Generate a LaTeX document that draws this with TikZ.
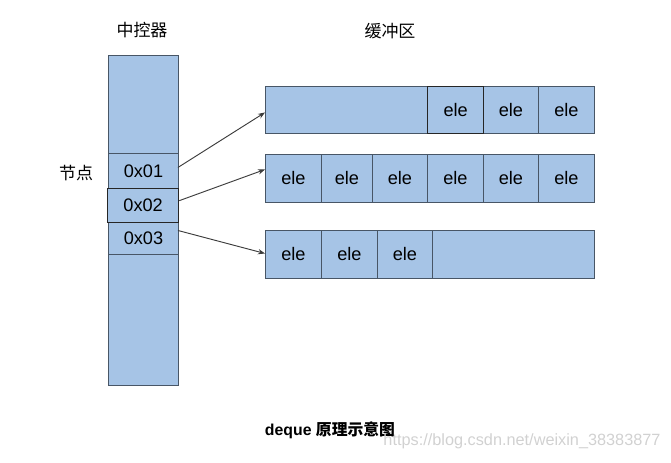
\documentclass[tikz,border=0pt]{standalone}
\usepackage{fontspec}
\setmainfont{Liberation Sans}
\newfontfamily\cjk{Noto Sans CJK SC}
\usetikzlibrary{arrows.meta,positioning,calc}
\definecolor{cellblue}{RGB}{166,196,230}
\definecolor{celledge}{RGB}{72,86,102}
\definecolor{linkgray}{RGB}{60,60,60}
\tikzset{
  cell/.style={draw=celledge, fill=cellblue, line width=0.8pt, inner sep=0pt,
    anchor=north west, font=\fontsize{15.5}{17}\selectfont},
  picked/.style={draw=black!85, line width=1.1pt},
  link/.style={draw=linkgray, line width=0.8pt, -{Stealth[length=6pt,width=4.5pt]}},
  caption/.style={font=\fontsize{14.5}{17}\selectfont\cjk}
}
\begin{document}
\begin{tikzpicture}[x=0.03cm, y=-0.03cm]
  \useasboundingbox (0,0) rectangle (671,462);
  % ---- left: map of nodes ----
  \begin{scope}
    \node[cell, minimum width=2.1cm, minimum height=9.9cm] (ctrl) at (108,55) {};
    \node[cell, minimum width=2.1cm, minimum height=1.05cm] (n1) at (108,153) {0x01};
    \node[cell, minimum width=2.1cm, minimum height=0.96cm] (n3) at (108,222) {0x03};
    \node[cell, picked, minimum width=2.13cm, minimum height=1.02cm] (n2) at (107,188) {0x02};
    \node[caption] (ctrlname) at (142,30) {中控器};
    \node[caption] (nodename) at (76,173) {节点};
  \end{scope}
  % ---- right: buffers ----
  \begin{scope}
    \node[cell, minimum width=9.87cm, minimum height=1.41cm] (b1) at (265,86) {};
    \foreach \l/\w in {483/55,538/56}
      \node[cell, minimum width=\w*0.03cm, minimum height=1.41cm] (b1-\l) at (\l,86) {ele};
    \node[cell, picked, minimum width=1.68cm, minimum height=1.41cm] (b1-427) at (427,86) {ele};
    \node[cell, minimum width=9.87cm, minimum height=1.44cm] (b2) at (265,154) {};
    \foreach \l/\w in {265/56,321/51,372/55,427/56,483/55,538/56}
      \node[cell, minimum width=\w*0.03cm, minimum height=1.44cm] (b2-\l) at (\l,154) {ele};
    \node[cell, minimum width=9.87cm, minimum height=1.44cm] (b3) at (265,230) {};
    \foreach \l/\w in {265/56,321/56,377/55}
      \node[cell, minimum width=\w*0.03cm, minimum height=1.44cm] (b3-\l) at (\l,230) {ele};
    \node[caption] (bufname) at (390,31) {缓冲区};
  \end{scope}
  % ---- links from map to buffers ----
  \draw[link] ($(n1.east)+(-1,-3.5)$) -- ($(b1.west)+(0,2.5)$);
  \draw[link] ($(n2.east)+(0,-5)$) -- ($(b2.west)+(0,-9)$);
  \draw[link] ($(n3.east)+(-1,-8)$) -- ($(b3.west)+(0,-1)$);
  % ---- caption and watermark ----
  \node[font=\fontsize{13.5}{16}\selectfont\bfseries] (title) at (330,430) {deque {\cjk 原理示意图}};
  \node[font=\fontsize{13.9}{16}\selectfont, text=black!18] (mark) at (522,441) {https://blog.csdn.net/weixin\_38383877};
\end{tikzpicture}
\end{document}
